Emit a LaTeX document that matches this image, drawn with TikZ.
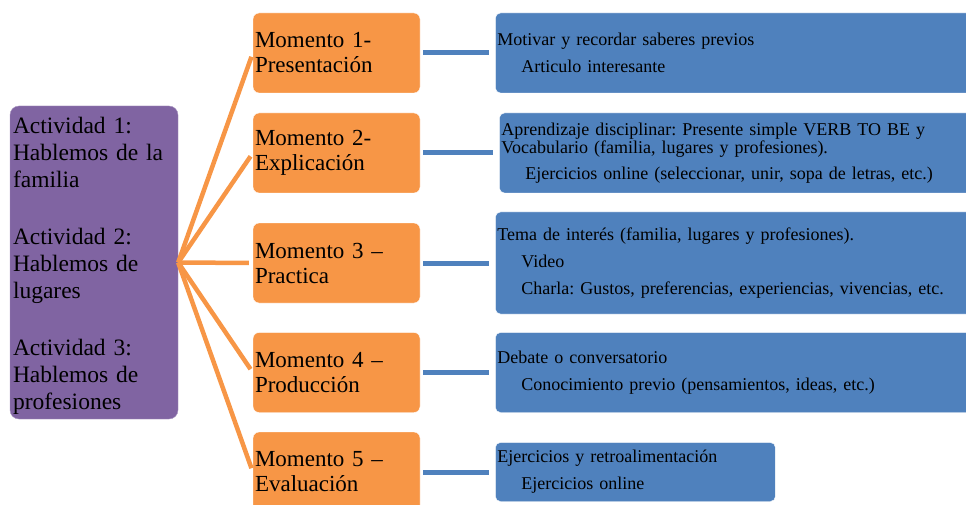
\documentclass[tikz,border=0pt]{standalone}
\usepackage{fontspec}
\setmainfont{Liberation Serif}
\usetikzlibrary{positioning}
\definecolor{actpurple}{HTML}{8064A2}
\definecolor{momorange}{HTML}{F79646}
\definecolor{taskblue}{HTML}{4F81BD}
\frenchspacing

\begin{document}
\begin{tikzpicture}[x=1pt, y=-1pt,
        node distance=75pt,
        actividad/.style={rectangle, rounded corners=9pt, fill=actpurple, draw=actpurple!70!white, minimum width=168pt, minimum height=313pt, text width=162pt, text height=24pt, align=left, inner xsep=3pt, font=\fontsize{23.5}{27}\selectfont},
        momento/.style={rectangle, rounded corners=6pt, fill=momorange, draw=white, minimum width=167pt, minimum height=80pt, text width=163pt, align=left, inner xsep=2pt, font=\fontsize{23}{25}\selectfont},
        tarea/.style={rectangle, rounded corners=5pt, fill=taskblue, draw=white, minimum width=480pt, minimum height=80pt, text width=476pt, align=left, inner xsep=2pt, font=\fontsize{18}{18}\selectfont},
        rama/.style={draw=momorange, line width=4.5pt, shorten >=4pt},
        enlace/.style={draw=taskblue, line width=5pt, shorten <=3pt, shorten >=6pt}
    ]
    \useasboundingbox (0,0) rectangle (966,505);
    \node[actividad] (act) at (94,262.5) {Actividad 1:\\Hablemos de la\\familia\\[30pt]Actividad 2:\\Hablemos de\\lugares\\[30pt]Actividad 3:\\Hablemos de\\profesiones};
    \node[momento] (mom1) at (336.5,53) {Momento 1-\\Presentación};
    \node[momento] (mom2) at (336.5,153) {Momento 2-\\Explicación};
    \node[momento] (mom3) at (336.5,263) {Momento 3 --\\Practica};
    \node[momento] (mom4) at (336.5,372.5) {Momento 4 --\\Producción};
    \node[momento] (mom5) at (336.5,472) {Momento 5 --\\Evaluación};
    \node[tarea, right=of mom1] (tar1) {Motivar y recordar saberes previos\\[9pt]\hspace*{24pt}Articulo interesante};
    \node[tarea, right=79pt of mom2] (tar2) {Aprendizaje disciplinar: Presente simple VERB TO BE y\\Vocabulario (familia, lugares y profesiones).\\[8pt]\hspace*{24pt}Ejercicios online (seleccionar, unir, sopa de letras, etc.)};
    \node[tarea, right=of mom3, minimum height=102pt] (tar3) {Tema de interés (familia, lugares y profesiones).\\[9pt]\hspace*{24pt}Video\\[9pt]\hspace*{24pt}Charla: Gustos, preferencias, experiencias, vivencias, etc.};
    \node[tarea, right=of mom4] (tar4) {Debate o conversatorio\\[9pt]\hspace*{24pt}Conocimiento previo (pensamientos, ideas, etc.)};
    \node[tarea, right=of mom5, minimum width=280pt, text width=276pt, minimum height=59pt] (tar5) {Ejercicios y retroalimentación\\[9pt]\hspace*{24pt}Ejercicios online};
    \foreach \i in {1,...,5} {
        \draw[rama] (act.east) -- (mom\i.west);
        \draw[enlace] (mom\i.east) -- (tar\i.west);
    }
\end{tikzpicture}
\end{document}
